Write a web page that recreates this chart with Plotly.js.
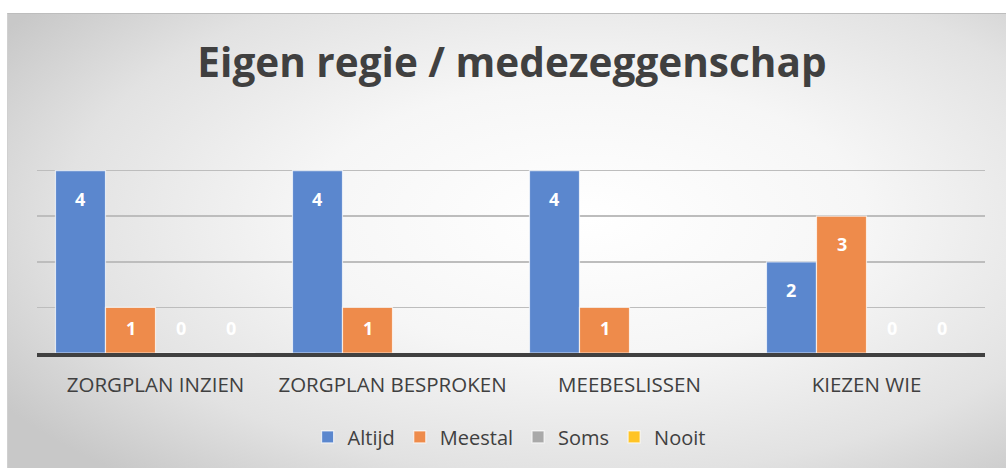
<!DOCTYPE html>
<html><head><meta charset="utf-8">
<script src="https://cdn.plot.ly/plotly-3.0.1.min.js"></script>
<style>
html,body{margin:0;padding:0;background:#fff;}
#bg{position:absolute;left:7px;top:13px;width:999px;height:455px;
background:radial-gradient(ellipse 70% 75% at 58% 45%, #ffffff 0%, #f6f6f6 40%, #e2e2e2 75%, #c8c8c8 100%);
border-top:1px solid #bdbdbd;border-left:1px solid #d0d0d0;}
#chart{position:absolute;left:0;top:0;width:1006px;height:468px;}
</style></head>
<body>
<div id="bg"></div>
<div id="chart"></div>
<script>
const categories = ["ZORGPLAN INZIEN", "ZORGPLAN BESPROKEN", "MEEBESLISSEN", "KIEZEN WIE"];
const altijd  = [4, 4, 4, 2];
const meestal = [1, 1, 1, 3];
const soms    = [0, null, null, 0];
const nooit   = [0, null, null, 0];
const seriesNames = ["Altijd", "Meestal", "Soms", "Nooit"];
const seriesColors = ["#5B87CE", "#EE8B4B", "#A9A9A9", "#FFC426"];
const seriesValues = [altijd, meestal, soms, nooit];

const bargap = 0.156;
const traces = seriesValues.map((vals, i) => ({
  type: 'bar',
  name: seriesNames[i],
  x: categories,
  y: vals,
  textposition: 'none',
  marker: {color: seriesColors[i], line: {color: 'rgba(255,255,255,0.7)', width: 1.2}},
  hoverinfo: 'skip'
}));

// data labels, "inside end" style (Excel-like), placed from the values
const barW = (1 - bargap) / seriesValues.length;
const annotations = [];
seriesValues.forEach((vals, i) => {
  vals.forEach((v, c) => {
    if (v === null) return;
    annotations.push({
      x: c + (i - (seriesValues.length - 1) / 2) * barW,
      y: Math.max(v - 0.614, 0.548),
      xref: 'x', yref: 'y', showarrow: false,
      text: '<b>' + v + '</b>', yanchor: 'middle', xanchor: 'center',
      font: {family: 'Open Sans, sans-serif', size: 18, color: '#ffffff'}
    });
  });
});

const layout = {
  width: 1006, height: 468,
  paper_bgcolor: 'rgba(0,0,0,0)',
  plot_bgcolor: 'rgba(0,0,0,0)',
  margin: {l: 37, r: 21, t: 125, b: 115},
  barmode: 'group',
  bargap: bargap,
  bargroupgap: 0,
  title: {text: '<b>Eigen regie / medezeggenschap</b>', x: 0.501, xref: 'paper', y: 0.865, yanchor: 'middle',
          font: {family: 'Open Sans, sans-serif', size: 40.5, color: '#404040'}},
  xaxis: {showline: true, linecolor: '#404040', linewidth: 3.5, ticks: '', showgrid: false,
          tickfont: {family: 'Open Sans, sans-serif', size: 20.5, color: '#404040'}, ticklabelstandoff: 11, fixedrange: true},
  yaxis: {range: [0, 5], dtick: 1, showticklabels: false, gridcolor: '#bdbdbd', gridwidth: 1.5,
          zeroline: false, showline: false, fixedrange: true},
  annotations: annotations,
  showlegend: true,
  legend: {orientation: 'h', x: 0.498, xanchor: 'center', y: -0.368, yanchor: 'middle',
           font: {family: 'Open Sans, sans-serif', size: 20, color: '#404040'}, itemwidth: 30,
           bgcolor: 'rgba(0,0,0,0)'}
};
Plotly.newPlot('chart', traces, layout, {displayModeBar: false, staticPlot: true});
</script>
</body></html>
